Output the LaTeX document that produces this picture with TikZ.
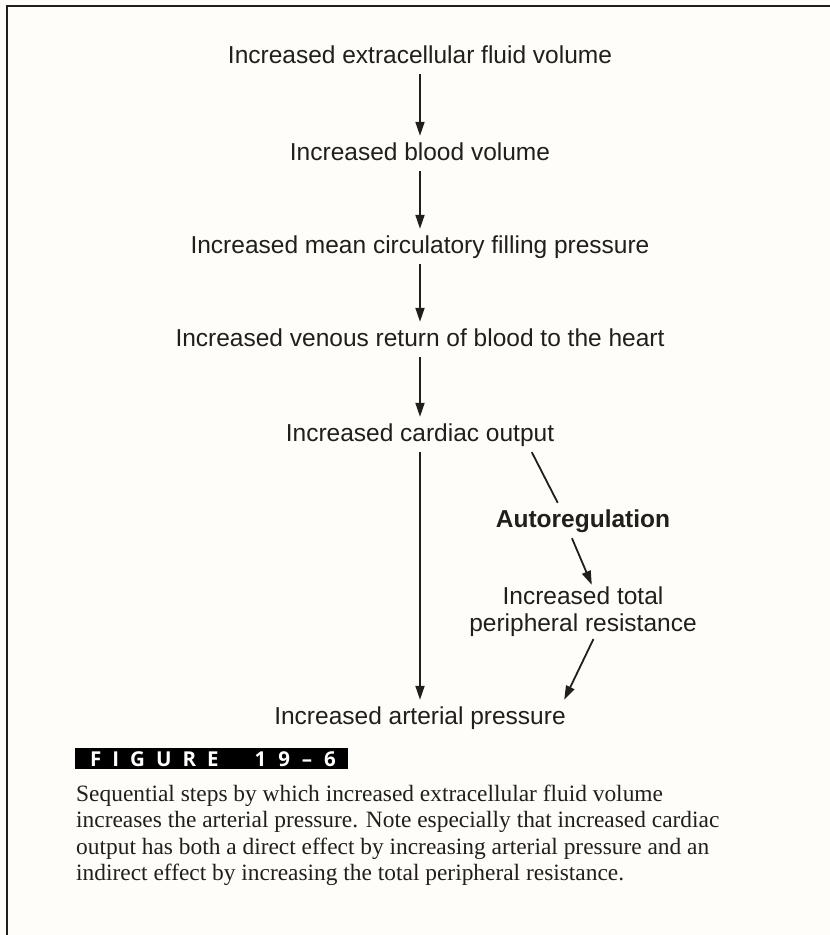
\documentclass[tikz,border=0pt]{standalone}
\usepackage{fontspec}
\setmainfont{Liberation Serif}
\setsansfont{Liberation Sans}
\newfontfamily\figfont{Open Sans}
\usepackage{xcolor}
\usetikzlibrary{arrows.meta,positioning}
\definecolor{inkc}{HTML}{221E1B}
\definecolor{paperc}{HTML}{FEFDF9}
\newcommand{\tagsp}{\hspace{11pt}}
\newcommand{\numsp}{\hspace{12pt}}

\begin{document}
\begin{tikzpicture}[x=1pt,y=-1pt,
  lbl/.style={font=\fontsize{24.5}{27}\sffamily,text=inkc,inner xsep=0pt,
              inner ysep=6pt,text height=18pt,text depth=5pt,anchor=base},
  flow/.style={draw=inkc,line width=1.8pt,-{Triangle[length=14pt,width=9pt]}},
  plain/.style={draw=inkc,line width=1.8pt},
]
\useasboundingbox[fill=paperc] (0,0) rectangle (830,935);
% frame: top and left rule only
\draw[inkc,line width=2.2pt] (830,6) -- (7,6) -- (7,935);

% main chain
\node[lbl] (ecf) at (420,63) {Increased extracellular fluid volume};
\node[lbl] (bv)  at (420,160) {Increased blood volume};
\node[lbl] (mcf) at (420,253) {Increased mean circulatory filling pressure};
\node[lbl] (vr)  at (420,346) {Increased venous return of blood to the heart};
\node[lbl] (co)  at (420,441) {Increased cardiac output};
\node[lbl] (ap)  at (420,724) {Increased arterial pressure};

% side branch
\node[lbl,font=\fontsize{24.5}{27}\sffamily\bfseries] (auto) at (583,527) {Autoregulation};
\node[lbl,anchor=center,align=center,inner ysep=2pt,text height=,text depth=] (tpr)
  at (583,612) {Increased total\\peripheral resistance};

\draw[flow] (ecf) -- (bv);
\draw[flow] (bv) -- (mcf);
\draw[flow] (mcf) -- (vr);
\draw[flow] (vr) -- (co);
\draw[flow] (co) -- (ap);
\draw[plain] (co.-9) -- (auto.145);
\draw[flow] (auto.-122) -- (tpr.72);
\draw[flow] (tpr.-69) -- (ap.7.2);

% figure tag and caption
\node[fill=black,text=white,font=\figfont\bfseries\fontsize{20.5}{20.5}\selectfont,
      minimum height=21pt,inner xsep=4pt,inner ysep=0pt,
      text width=265pt,align=left,anchor=north west] (tag) at (75,748)
  {\hspace*{11pt}F\tagsp I\tagsp G\tagsp U\tagsp R\tagsp E\hspace{36pt}1\numsp 9\numsp –\numsp 6};
\node[text=inkc,font=\fontsize{23.4}{26.3}\selectfont,align=left,
      inner sep=0pt,anchor=north west] (cap) at (76,785)
  {Sequential steps by which increased extracellular fluid volume\\
   increases the arterial pressure. Note especially that increased cardiac\\
   output has both a direct effect by increasing arterial pressure and an\\
   indirect effect by increasing the total peripheral resistance.};
\end{tikzpicture}
\end{document}
